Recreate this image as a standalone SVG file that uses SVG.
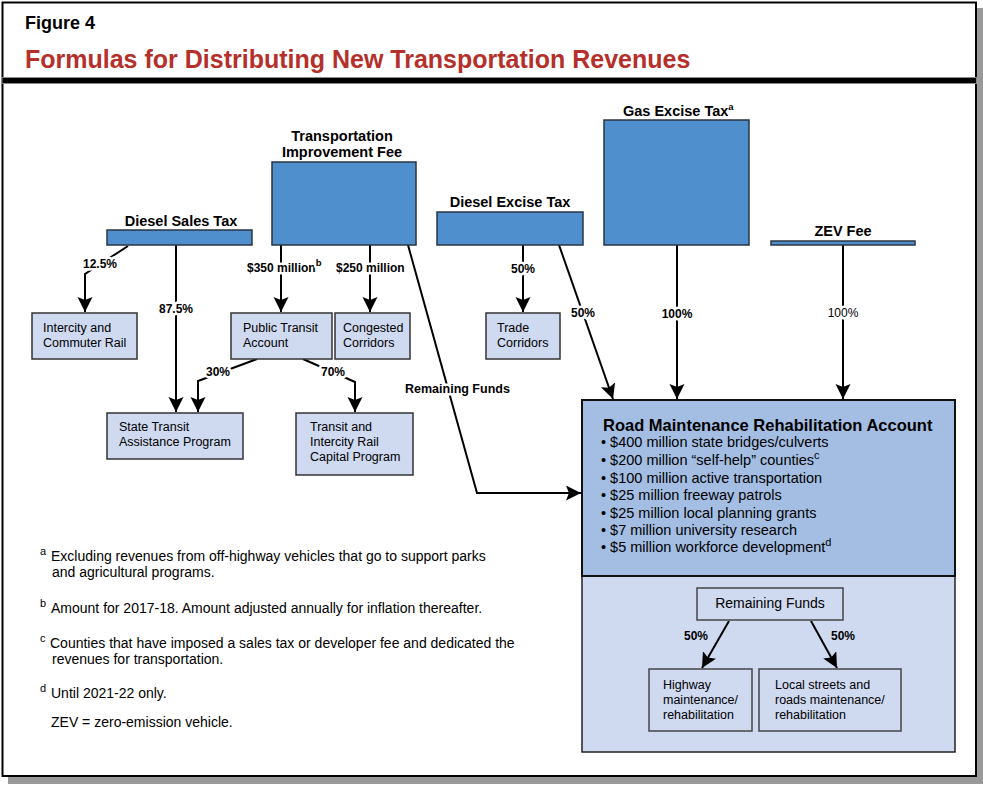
<svg xmlns="http://www.w3.org/2000/svg" width="983" height="787" viewBox="0 0 983 787">
<defs>
<marker id="arr" markerUnits="userSpaceOnUse" markerWidth="16" markerHeight="16" refX="15" refY="7.5" orient="auto">
<path d="M0,0 L15,7.5 L0,15 L3,7.5 Z" fill="#000"/>
</marker>
<style>
text{font-family:"Liberation Sans",Arial,Helvetica,sans-serif;fill:#000}
.src{fill:#4f8fcd;stroke:#2a3440;stroke-width:1.5}
.box{fill:#cfd9f0;stroke:#333;stroke-width:1.5}
.hdr{font-size:14.5px;font-weight:bold}
.bt{font-size:12.5px}
.pct{font-size:12px;font-weight:bold;stroke:#fff;stroke-width:5;paint-order:stroke;stroke-linejoin:round}
.pctn{font-size:12px;font-weight:bold}
.con{fill:none;stroke:#000;stroke-width:2}
.fn{font-size:14px}
.sup{font-size:9.5px}
.fsup{font-size:11px}
.bul{font-size:14.5px}
</style>
</defs>
<rect x="8" y="8" width="975" height="776" fill="#999"/>
<rect x="2.5" y="2.5" width="973.5" height="773.5" fill="#fff" stroke="#000" stroke-width="2"/>
<rect x="2" y="77.5" width="974.5" height="6" fill="#000" stroke="#888" stroke-width="1"/>
<text x="25" y="29" style="font-size:18px;font-weight:bold">Figure 4</text>
<text x="25" y="68" style="font-size:25px;font-weight:bold;fill:#b5302a">Formulas for Distributing New Transportation Revenues</text>

<g id="lower-area">
<rect x="582" y="576" width="373" height="176" fill="#cfd9f0" stroke="#222" stroke-width="1.5"/>
</g>

<g id="connectors">
<polyline class="con" points="128,246 85,274 85,312" marker-end="url(#arr)"/>
<line class="con" x1="176" y1="245" x2="176" y2="412" marker-end="url(#arr)"/>
<line class="con" x1="281" y1="245" x2="281" y2="312" marker-end="url(#arr)"/>
<line class="con" x1="370" y1="245" x2="370" y2="312" marker-end="url(#arr)"/>
<polyline class="con" points="257,359 198,381 198,412" marker-end="url(#arr)"/>
<polyline class="con" points="303,359 355,382 355,412" marker-end="url(#arr)"/>
<polyline class="con" points="408,245 477,493 581,493" marker-end="url(#arr)"/>
<line class="con" x1="523" y1="245" x2="523" y2="312" marker-end="url(#arr)"/>
<line class="con" x1="559" y1="245" x2="613" y2="399" marker-end="url(#arr)"/>
<line class="con" x1="677" y1="245" x2="677" y2="399" marker-end="url(#arr)"/>
<line class="con" x1="843" y1="245" x2="843" y2="399" marker-end="url(#arr)"/>
<line class="con" x1="729" y1="621" x2="702" y2="668" marker-end="url(#arr)"/>
<line class="con" x1="811" y1="621" x2="837" y2="668" marker-end="url(#arr)"/>
<text class="pct" x="100" y="268" text-anchor="middle">12.5%</text>
<text class="pct" x="176" y="313" text-anchor="middle">87.5%</text>
<text class="pct" x="247" y="272">$350 million<tspan class="sup" dy="-6">b</tspan></text>
<text class="pct" x="336" y="272">$250 million</text>
<text class="pct" x="218" y="376" text-anchor="middle">30%</text>
<text class="pct" x="333" y="376" text-anchor="middle">70%</text>
<text class="pct" x="405" y="393" style="font-size:12.5px">Remaining Funds</text>
<text class="pct" x="523" y="273" text-anchor="middle">50%</text>
<text class="pct" x="583" y="317" text-anchor="middle">50%</text>
<text class="pct" x="677" y="318" text-anchor="middle">100%</text>
<text class="pct" x="843" y="317" text-anchor="middle" style="font-weight:normal">100%</text>
<text class="pctn" x="696" y="640" text-anchor="middle">50%</text>
<text class="pctn" x="843" y="640" text-anchor="middle">50%</text>
</g>

<g id="diesel-sales-tax">
<rect class="src" x="107" y="230" width="145" height="15"/>
<text class="hdr" x="181" y="226" text-anchor="middle">Diesel Sales Tax</text>
</g>
<g id="transportation-improvement-fee">
<rect class="src" x="272" y="162" width="144" height="83"/>
<text class="hdr" x="342" y="141" text-anchor="middle">Transportation</text>
<text class="hdr" x="342" y="157" text-anchor="middle">Improvement Fee</text>
</g>
<g id="diesel-excise-tax">
<rect class="src" x="437" y="212" width="146" height="33"/>
<text class="hdr" x="510" y="207" text-anchor="middle">Diesel Excise Tax</text>
</g>
<g id="gas-excise-tax">
<rect class="src" x="604" y="120" width="145" height="125"/>
<text class="hdr" x="623" y="116">Gas Excise Tax<tspan class="sup" dy="-6">a</tspan></text>
</g>
<g id="zev-fee">
<rect class="src" x="771" y="241" width="144" height="4"/>
<text class="hdr" x="843" y="236" text-anchor="middle">ZEV Fee</text>
</g>

<g id="intercity-commuter-rail">
<rect class="box" x="32" y="313" width="105" height="46"/>
<text class="bt" x="43" y="332">Intercity and</text>
<text class="bt" x="43" y="347">Commuter Rail</text>
</g>
<g id="public-transit-account">
<rect class="box" x="231" y="313" width="101" height="46"/>
<text class="bt" x="243" y="332">Public Transit</text>
<text class="bt" x="243" y="347">Account</text>
</g>
<g id="congested-corridors">
<rect class="box" x="335" y="313" width="75" height="46"/>
<text class="bt" x="343" y="332">Congested</text>
<text class="bt" x="343" y="347">Corridors</text>
</g>
<g id="trade-corridors">
<rect class="box" x="486" y="313" width="74" height="46"/>
<text class="bt" x="497" y="332">Trade</text>
<text class="bt" x="497" y="347">Corridors</text>
</g>
<g id="state-transit-assistance">
<rect class="box" x="107" y="413" width="136" height="46"/>
<text class="bt" x="119" y="431">State Transit</text>
<text class="bt" x="119" y="446">Assistance Program</text>
</g>
<g id="transit-intercity-rail-capital">
<rect class="box" x="296" y="413" width="117" height="62"/>
<text class="bt" x="310" y="431">Transit and</text>
<text class="bt" x="310" y="446">Intercity Rail</text>
<text class="bt" x="310" y="461">Capital Program</text>
</g>

<g id="rmra">
<rect x="582" y="400" width="373" height="176" fill="#a3bde3" stroke="#111" stroke-width="2"/>
<text x="603" y="431" style="font-size:16.5px;font-weight:bold">Road Maintenance Rehabilitation Account</text>
<text class="bul" x="601" y="447">• $400 million state bridges/culverts</text>
<text class="bul" x="601" y="465">• $200 million “self-help” counties<tspan class="sup" dy="-6" style="font-size:11px">c</tspan></text>
<text class="bul" x="601" y="483">• $100 million active transportation</text>
<text class="bul" x="601" y="500">• $25 million freeway patrols</text>
<text class="bul" x="601" y="518">• $25 million local planning grants</text>
<text class="bul" x="601" y="535">• $7 million university research</text>
<text class="bul" x="601" y="552">• $5 million workforce development<tspan class="sup" dy="-6" style="font-size:11px">d</tspan></text>
</g>

<g id="remaining-funds">
<rect x="697" y="588" width="146" height="32" fill="#cfd9f0" stroke="#444" stroke-width="1.5"/>
<text x="770" y="608" text-anchor="middle" style="font-size:14px">Remaining Funds</text>
</g>
<g id="highway-maintenance">
<rect x="649" y="669" width="103" height="62" fill="#cfd9f0" stroke="#444" stroke-width="1.5"/>
<text class="bt" x="663" y="689">Highway</text>
<text class="bt" x="663" y="704">maintenance/</text>
<text class="bt" x="663" y="719">rehabilitation</text>
</g>
<g id="local-streets">
<rect x="759" y="669" width="142" height="62" fill="#cfd9f0" stroke="#444" stroke-width="1.5"/>
<text class="bt" x="775" y="689">Local streets and</text>
<text class="bt" x="775" y="704">roads maintenance/</text>
<text class="bt" x="775" y="719">rehabilitation</text>
</g>

<g id="footnotes">
<text class="fsup" x="40" y="555">a</text>
<text class="fn" x="51" y="561">Excluding revenues from off-highway vehicles that go to support parks</text>
<text class="fn" x="52" y="577">and agricultural programs.</text>
<text class="fsup" x="40" y="607">b</text>
<text class="fn" x="51" y="613">Amount for 2017-18. Amount adjusted annually for inflation thereafter.</text>
<text class="fsup" x="40" y="642">c</text>
<text class="fn" x="50" y="648">Counties that have imposed a sales tax or developer fee and dedicated the</text>
<text class="fn" x="52" y="664">revenues for transportation.</text>
<text class="fsup" x="40" y="692">d</text>
<text class="fn" x="51" y="698">Until 2021-22 only.</text>
<text class="fn" x="51" y="727">ZEV = zero-emission vehicle.</text>
</g>
</svg>
